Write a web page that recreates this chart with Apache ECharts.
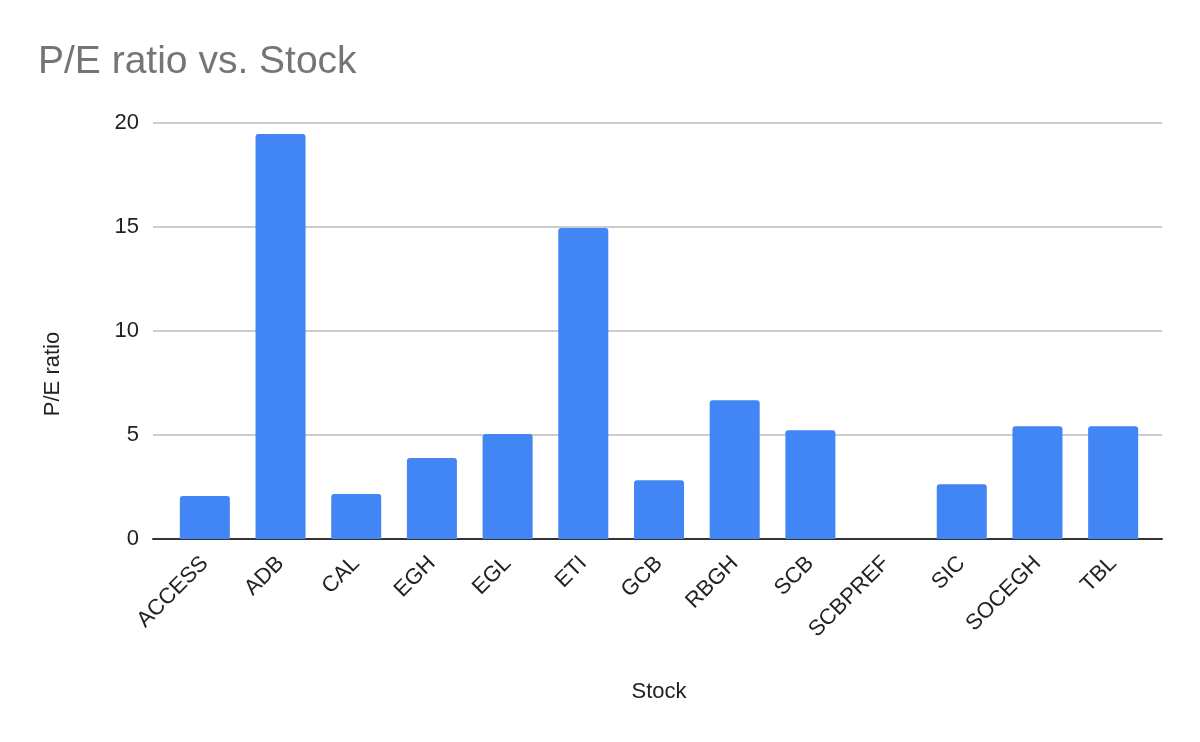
<!DOCTYPE html>
<html>
<head>
<meta charset="utf-8">
<script src="https://cdn.jsdelivr.net/npm/echarts@6/dist/echarts.min.js"></script>
<style>
  html, body { margin: 0; padding: 0; background: #fff; }
  #chart { width: 1200px; height: 742px; }
</style>
</head>
<body>
<div id="chart"></div>
<script>
// data
var stocks = ['ACCESS', 'ADB', 'CAL', 'EGH', 'EGL', 'ETI', 'GCB', 'RBGH', 'SCB', 'SCBPREF', 'SIC', 'SOCEGH', 'TBL'];
var peRatio = [2.07, 19.47, 2.16, 3.89, 5.05, 14.95, 2.82, 6.67, 5.23, 0, 2.63, 5.42, 5.42];
var yTicks = {min: 0, max: 20, interval: 5};

var font = 'Liberation Sans, Arial, sans-serif';
var chart = echarts.init(document.getElementById('chart'));

var option = {
    backgroundColor: '#fff',
    animation: false,
    title: {
        text: 'P/E ratio vs. Stock',
        left: 33,
        top: 38,
        textStyle: {color: '#757575', fontSize: 39, fontWeight: 'normal', fontFamily: font}
    },
    // grid 0 carries gridlines / baseline, grid 1 carries the bars (inset like Sheets does)
    grid: [
        {left: 153, right: 38, top: 123, bottom: 203},
        {left: 167, right: 49, top: 123, bottom: 203}
    ],
    xAxis: [
        {
            gridIndex: 0,
            type: 'category',
            data: stocks,
            axisLine: {lineStyle: {color: '#333', width: 2}},
            axisTick: {show: false},
            axisLabel: {show: false}
        },
        {
            gridIndex: 1,
            type: 'category',
            data: stocks,
            axisLine: {show: false},
            axisTick: {show: false},
            axisLabel: {
                rotate: 45,
                margin: 21,
                interval: 0,
                color: '#222',
                fontSize: 22,
                fontFamily: font
            },
            name: 'Stock',
            nameLocation: 'middle',
            nameGap: 142,
            nameTextStyle: {color: '#222', fontSize: 22, fontFamily: font}
        }
    ],
    yAxis: [
        {
            gridIndex: 0,
            type: 'value',
            min: yTicks.min,
            max: yTicks.max,
            interval: yTicks.interval,
            axisLine: {show: false},
            axisTick: {show: false},
            axisLabel: {color: '#222', fontSize: 22, margin: 14, fontFamily: font},
            splitLine: {lineStyle: {color: '#cccccc', width: 2}},
            name: 'P/E ratio',
            nameLocation: 'middle',
            nameGap: 89,
            nameTextStyle: {color: '#222', fontSize: 22, fontFamily: font, padding: [0, 86, 0, 0]}
        },
        {
            gridIndex: 1,
            type: 'value',
            min: yTicks.min,
            max: yTicks.max,
            interval: yTicks.interval,
            show: false
        }
    ],
    series: [{
        type: 'bar',
        name: 'P/E ratio',
        xAxisIndex: 1,
        yAxisIndex: 1,
        data: peRatio,
        barWidth: 50,
        itemStyle: {color: '#4285F4', borderRadius: [3, 3, 0, 0]}
    }]
};

chart.setOption(option);
</script>
</body>
</html>
